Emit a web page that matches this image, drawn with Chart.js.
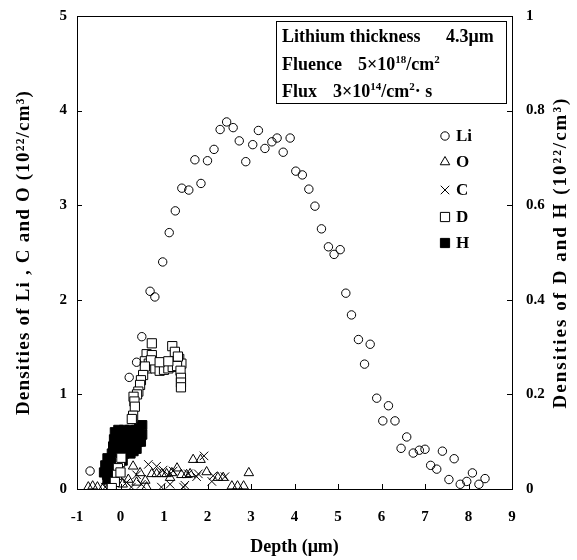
<!DOCTYPE html>
<html><head><meta charset="utf-8">
<script src="https://cdn.jsdelivr.net/npm/chart.js@4/dist/chart.umd.min.js"></script>
<style>html,body{margin:0;padding:0;background:#fff;}#wrap{width:577px;height:560px;}</style>
</head><body><div id="wrap"><canvas id="c" width="577" height="560"></canvas></div>
<script>
// ---- tick values / labels ----
const xTicks = [-1,0,1,2,3,4,5,6,7,8,9];
const yLeftTicks = [0,1,2,3,4,5];
const yRightTicks = [0,0.2,0.4,0.6,0.8,1];
const yRightLabels = ['0','0.2','0.4','0.6','0.8','1'];

// ---- Li (left axis, 10^22/cm^3) ----
const liDepth = [-0.7,0.2,0.37,0.49,0.68,0.79,0.97,1.12,1.26,1.41,1.57,1.71,1.85,2.0,2.15,2.29,2.44,2.59,2.73,2.88,3.04,3.17,3.32,3.48,3.6,3.74,3.9,4.03,4.18,4.33,4.47,4.62,4.78,4.91,5.05,5.18,5.31,5.47,5.61,5.74,5.89,6.03,6.16,6.31,6.45,6.58,6.73,6.87,7.0,7.13,7.27,7.4,7.55,7.67,7.81,7.96,8.09,8.24,8.38];
const liDens  = [0.19,1.18,1.34,1.61,2.09,2.03,2.40,2.71,2.94,3.18,3.16,3.48,3.23,3.47,3.59,3.80,3.88,3.82,3.68,3.46,3.64,3.79,3.60,3.67,3.71,3.56,3.71,3.36,3.32,3.17,2.99,2.75,2.56,2.48,2.53,2.07,1.84,1.58,1.32,1.53,0.96,0.72,0.88,0.72,0.43,0.55,0.38,0.41,0.42,0.25,0.21,0.40,0.10,0.32,0.05,0.08,0.17,0.05,0.11];

// ---- O (left axis) ----
const oDepth = [-0.74,-0.64,-0.53,-0.4,-0.2,0.05,0.18,0.29,0.37,0.45,0.57,0.6,0.72,0.83,0.95,1.06,1.14,1.18,1.3,1.4,1.52,1.6,1.67,1.84,1.98,2.24,2.36,2.56,2.69,2.83,2.95];
const oDens  = [0.02,0.03,0.02,0.01,0.02,0.05,0.10,0.24,0.07,0.17,0.09,0.02,0.16,0.16,0.16,0.16,0.12,0.17,0.22,0.15,0.15,0.16,0.31,0.31,0.18,0.12,0.12,0.03,0.03,0.03,0.17];

// ---- C (left axis) ----
const cDepth = [-0.35,0.14,0.25,0.37,0.48,0.64,0.83,0.94,0.98,1.14,1.21,1.45,1.48,1.56,1.75,1.79,1.92,2.10,2.13,2.40];
const cDens  = [0.02,0.07,0.02,0.15,0.05,0.26,0.24,0.02,0.20,0.05,0.19,0.02,0.04,0.16,0.13,0.16,0.35,0.08,0.14,0.13];

// ---- D (right axis) ----
const dDepth = [0.72,1.19,1.25,0.60,0.72,0.56,0.65,0.75,0.85,0.95,1.05,1.15,1.25,1.35,1.40,0.62,0.80,0.90,1.00,1.10,1.20,1.30,1.38,1.32,0.70,0.90,1.10,1.39,1.39,1.39,0.56,0.52,0.47,0.45,0.41,0.38,0.30,0.32,0.33,0.29,0.26,-0.01,-0.06,-0.08,-0.13,-0.20,0.02,0.00];
const dDens  = [0.308,0.302,0.290,0.285,0.283,0.270,0.265,0.260,0.262,0.258,0.262,0.265,0.270,0.275,0.265,0.255,0.255,0.250,0.252,0.255,0.258,0.260,0.250,0.280,0.272,0.268,0.270,0.235,0.225,0.215,0.259,0.241,0.230,0.220,0.206,0.200,0.195,0.185,0.174,0.155,0.148,0.057,0.044,0.030,0.015,0.002,0.066,0.035];

// ---- H (right axis) ----
const hDepth = [-0.13,-0.05,0.01,0.08,0.15,0.22,0.29,0.36,0.43,0.50,-0.15,-0.08,0.00,0.07,0.14,0.21,0.28,0.35,0.42,0.50,-0.17,-0.10,-0.03,0.04,0.11,0.18,0.25,0.32,0.40,0.47,-0.20,-0.12,-0.05,0.02,0.09,0.16,0.23,0.30,0.37,-0.30,-0.23,-0.16,-0.09,-0.02,0.05,-0.35,-0.28,-0.21,-0.14,-0.07,-0.38,-0.31,-0.24,-0.17,-0.30,-0.20];
const hDens  = [0.120,0.125,0.120,0.125,0.120,0.125,0.120,0.125,0.130,0.135,0.105,0.110,0.105,0.110,0.105,0.110,0.105,0.110,0.115,0.115,0.090,0.095,0.090,0.095,0.090,0.095,0.090,0.095,0.100,0.100,0.075,0.080,0.075,0.080,0.075,0.080,0.075,0.080,0.085,0.065,0.060,0.065,0.060,0.065,0.060,0.050,0.045,0.050,0.045,0.050,0.035,0.030,0.035,0.030,0.020,0.015];

const leftTitle = 'Densities of Li , C and O (10\u00b2\u00b2/cm\u00b3)';
const rightTitle = 'Densities of D and H (10\u00b2\u00b2/cm\u00b3)';

const pts = (xs, ys) => xs.map((x, i) => ({x, y: ys[i]}));
const FONT = '"Liberation Serif", "Times New Roman", serif';
Chart.defaults.font.family = FONT;
Chart.defaults.font.weight = 'bold';
Chart.defaults.color = '#000';

function drawSym(ctx, style, r, fill, x, y){
  ctx.save();
  ctx.strokeStyle = '#000'; ctx.fillStyle = fill; ctx.lineWidth = 1;
  if (Chart.helpers && Chart.helpers.drawPoint) {
    Chart.helpers.drawPoint(ctx, {pointStyle: style, radius: r, borderWidth: 1, rotation: 0}, x, y);
  }
  ctx.restore();
}

const legendPlugin = {
  id: 'innerLegend',
  afterDraw(chart){
    const ctx = chart.ctx;
    const ys = [136, 162, 190, 217, 243];
    chart.data.datasets.forEach((ds, i) => {
      drawSym(ctx, ds.pointStyle, ds.pointRadius, ds.backgroundColor, 445, ys[i]);
      ctx.save();
      ctx.font = 'bold 17px ' + FONT; ctx.fillStyle = '#000';
      ctx.textBaseline = 'middle'; ctx.textAlign = 'left';
      ctx.fillText(ds.label, 456, ys[i] + 1);
      ctx.restore();
    });
  }
};

function runs(ctx, x, y, parts, size){
  for (const [t, sup] of parts){
    const s = sup ? Math.round(size * 0.62) : size;
    ctx.font = 'bold ' + s + 'px ' + FONT;
    ctx.fillText(t, x, sup ? y - size * 0.4 : y);
    x += ctx.measureText(t).width;
  }
}

const boxPlugin = {
  id: 'infoBox',
  afterDraw(chart){
    const ctx = chart.ctx;
    ctx.save();
    ctx.strokeStyle = '#000'; ctx.lineWidth = 1;
    ctx.strokeRect(276.5, 21.5, 230, 82);
    ctx.fillStyle = '#000'; ctx.textBaseline = 'alphabetic'; ctx.textAlign = 'left';
    const S = 18;
    runs(ctx, 282, 42, [['Lithium thickness', false]], S);
    runs(ctx, 446, 42, [['4.3\u03bcm', false]], S);
    runs(ctx, 282, 70, [['Fluence', false]], S);
    runs(ctx, 358, 70, [['5\u00d710', false], ['18', true], ['/cm', false], ['2', true]], S);
    runs(ctx, 282, 97, [['Flux', false]], S);
    runs(ctx, 333, 97, [['3\u00d710', false], ['14', true], ['/cm', false], ['2', true], ['\u00b7 s', false]], S);
    ctx.restore();
  }
};

const titlesPlugin = {
  id: 'axisTitles',
  afterDraw(chart){
    const {ctx, chartArea: a} = chart;
    const cy = (a.top + a.bottom) / 2;
    ctx.save();
    ctx.fillStyle = '#000';
    ctx.font = 'bold 19px ' + FONT;
    ctx.textAlign = 'center'; ctx.textBaseline = 'middle';
    ctx.save(); try { ctx.letterSpacing = '1.2px'; } catch(e) {}
    ctx.translate(24, cy); ctx.rotate(-Math.PI / 2); ctx.fillText(leftTitle, 0, 0); ctx.restore();
    ctx.save(); try { ctx.letterSpacing = '2px'; } catch(e) {}
    ctx.translate(561, cy); ctx.rotate(-Math.PI / 2); ctx.fillText(rightTitle, 0, 0); ctx.restore();
    ctx.restore();
  }
};

const framePlugin = {
  id: 'frameTicks',
  afterDraw(chart){
    const {ctx, chartArea: a, scales} = chart;
    ctx.save();
    ctx.strokeStyle = '#000'; ctx.lineWidth = 1;
    ctx.beginPath();
    scales.x.ticks.forEach(t => { const p = Math.round(scales.x.getPixelForValue(t.value)) + 0.5; ctx.moveTo(p, a.bottom); ctx.lineTo(p, a.bottom - 5); });
    scales.y.ticks.forEach(t => { const p = Math.round(scales.y.getPixelForValue(t.value)) + 0.5; ctx.moveTo(a.left, p); ctx.lineTo(a.left + 5, p); });
    scales.y2.ticks.forEach(t => { const p = Math.round(scales.y2.getPixelForValue(t.value)) + 0.5; ctx.moveTo(a.right, p); ctx.lineTo(a.right - 5, p); });
    ctx.stroke();
    ctx.strokeRect(Math.round(a.left) + 0.5, Math.round(a.top) + 0.5, Math.round(a.right - a.left), Math.round(a.bottom - a.top));
    ctx.restore();
  }
};

const fitV = w => s => { s.width = w; s.paddingTop = 0; s.paddingBottom = 0; };

const common = {borderColor: '#000', borderWidth: 1, showLine: false, pointBorderWidth: 1};
new Chart(document.getElementById('c'), {
  type: 'scatter',
  data: {
    datasets: [
      {...common, label: 'Li', data: pts(liDepth, liDens), pointStyle: 'circle', pointRadius: 4.2, backgroundColor: 'rgba(255,255,255,0)', yAxisID: 'y', order: 0},
      {...common, label: 'O', data: pts(oDepth, oDens), pointStyle: 'triangle', pointRadius: 5.5, backgroundColor: 'rgba(255,255,255,0)', yAxisID: 'y', order: 3},
      {...common, label: 'C', data: pts(cDepth, cDens), pointStyle: 'crossRot', pointRadius: 6, backgroundColor: 'rgba(255,255,255,0)', yAxisID: 'y', order: 2},
      {...common, label: 'D', data: pts(dDepth, dDens), pointStyle: 'rect', pointRadius: 6.5, backgroundColor: '#fff', yAxisID: 'y2', order: 1},
      {...common, label: 'H', data: pts(hDepth, hDens), pointStyle: 'rect', pointRadius: 6.5, backgroundColor: '#000', yAxisID: 'y2', order: 4}
    ]
  },
  options: {
    responsive: false, animation: false, devicePixelRatio: 1,
    layout: {padding: {top: 16, left: 0, right: 0, bottom: 0}},
    plugins: {legend: {display: false}, tooltip: {enabled: false}},
    scales: {
      x: {
        type: 'linear', min: -1, max: 9,
        afterBuildTicks: s => { s.ticks = xTicks.map(v => ({value: v})); },
        afterFit: s => { s.height = 71; s.paddingLeft = 0; s.paddingRight = 0; },
        grid: {display: false, drawTicks: false}, border: {display: false},
        ticks: {padding: 19, font: {size: 15, weight: 'bold'}, color: '#000', maxRotation: 0},
        title: {display: true, text: 'Depth (\u03bcm)', font: {size: 18, weight: 'bold'}, color: '#000', padding: {top: 0, bottom: 2}}
      },
      y: {
        type: 'linear', position: 'left', min: 0, max: 5,
        afterBuildTicks: s => { s.ticks = yLeftTicks.map(v => ({value: v})); },
        afterFit: fitV(77),
        grid: {display: false, drawTicks: false}, border: {display: false},
        ticks: {padding: 10, font: {size: 15, weight: 'bold'}, color: '#000'}
      },
      y2: {
        type: 'linear', position: 'right', min: 0, max: 1,
        afterBuildTicks: s => { s.ticks = yRightTicks.map(v => ({value: v})); },
        afterFit: fitV(65),
        grid: {display: false, drawTicks: false}, border: {display: false},
        ticks: {padding: 14, font: {size: 15, weight: 'bold'}, color: '#000',
          callback: v => { const i = yRightTicks.findIndex(t => Math.abs(t - v) < 1e-9); return i >= 0 ? yRightLabels[i] : ''; }}
      }
    }
  },
  plugins: [framePlugin, boxPlugin, legendPlugin, titlesPlugin]
});
</script></body></html>
